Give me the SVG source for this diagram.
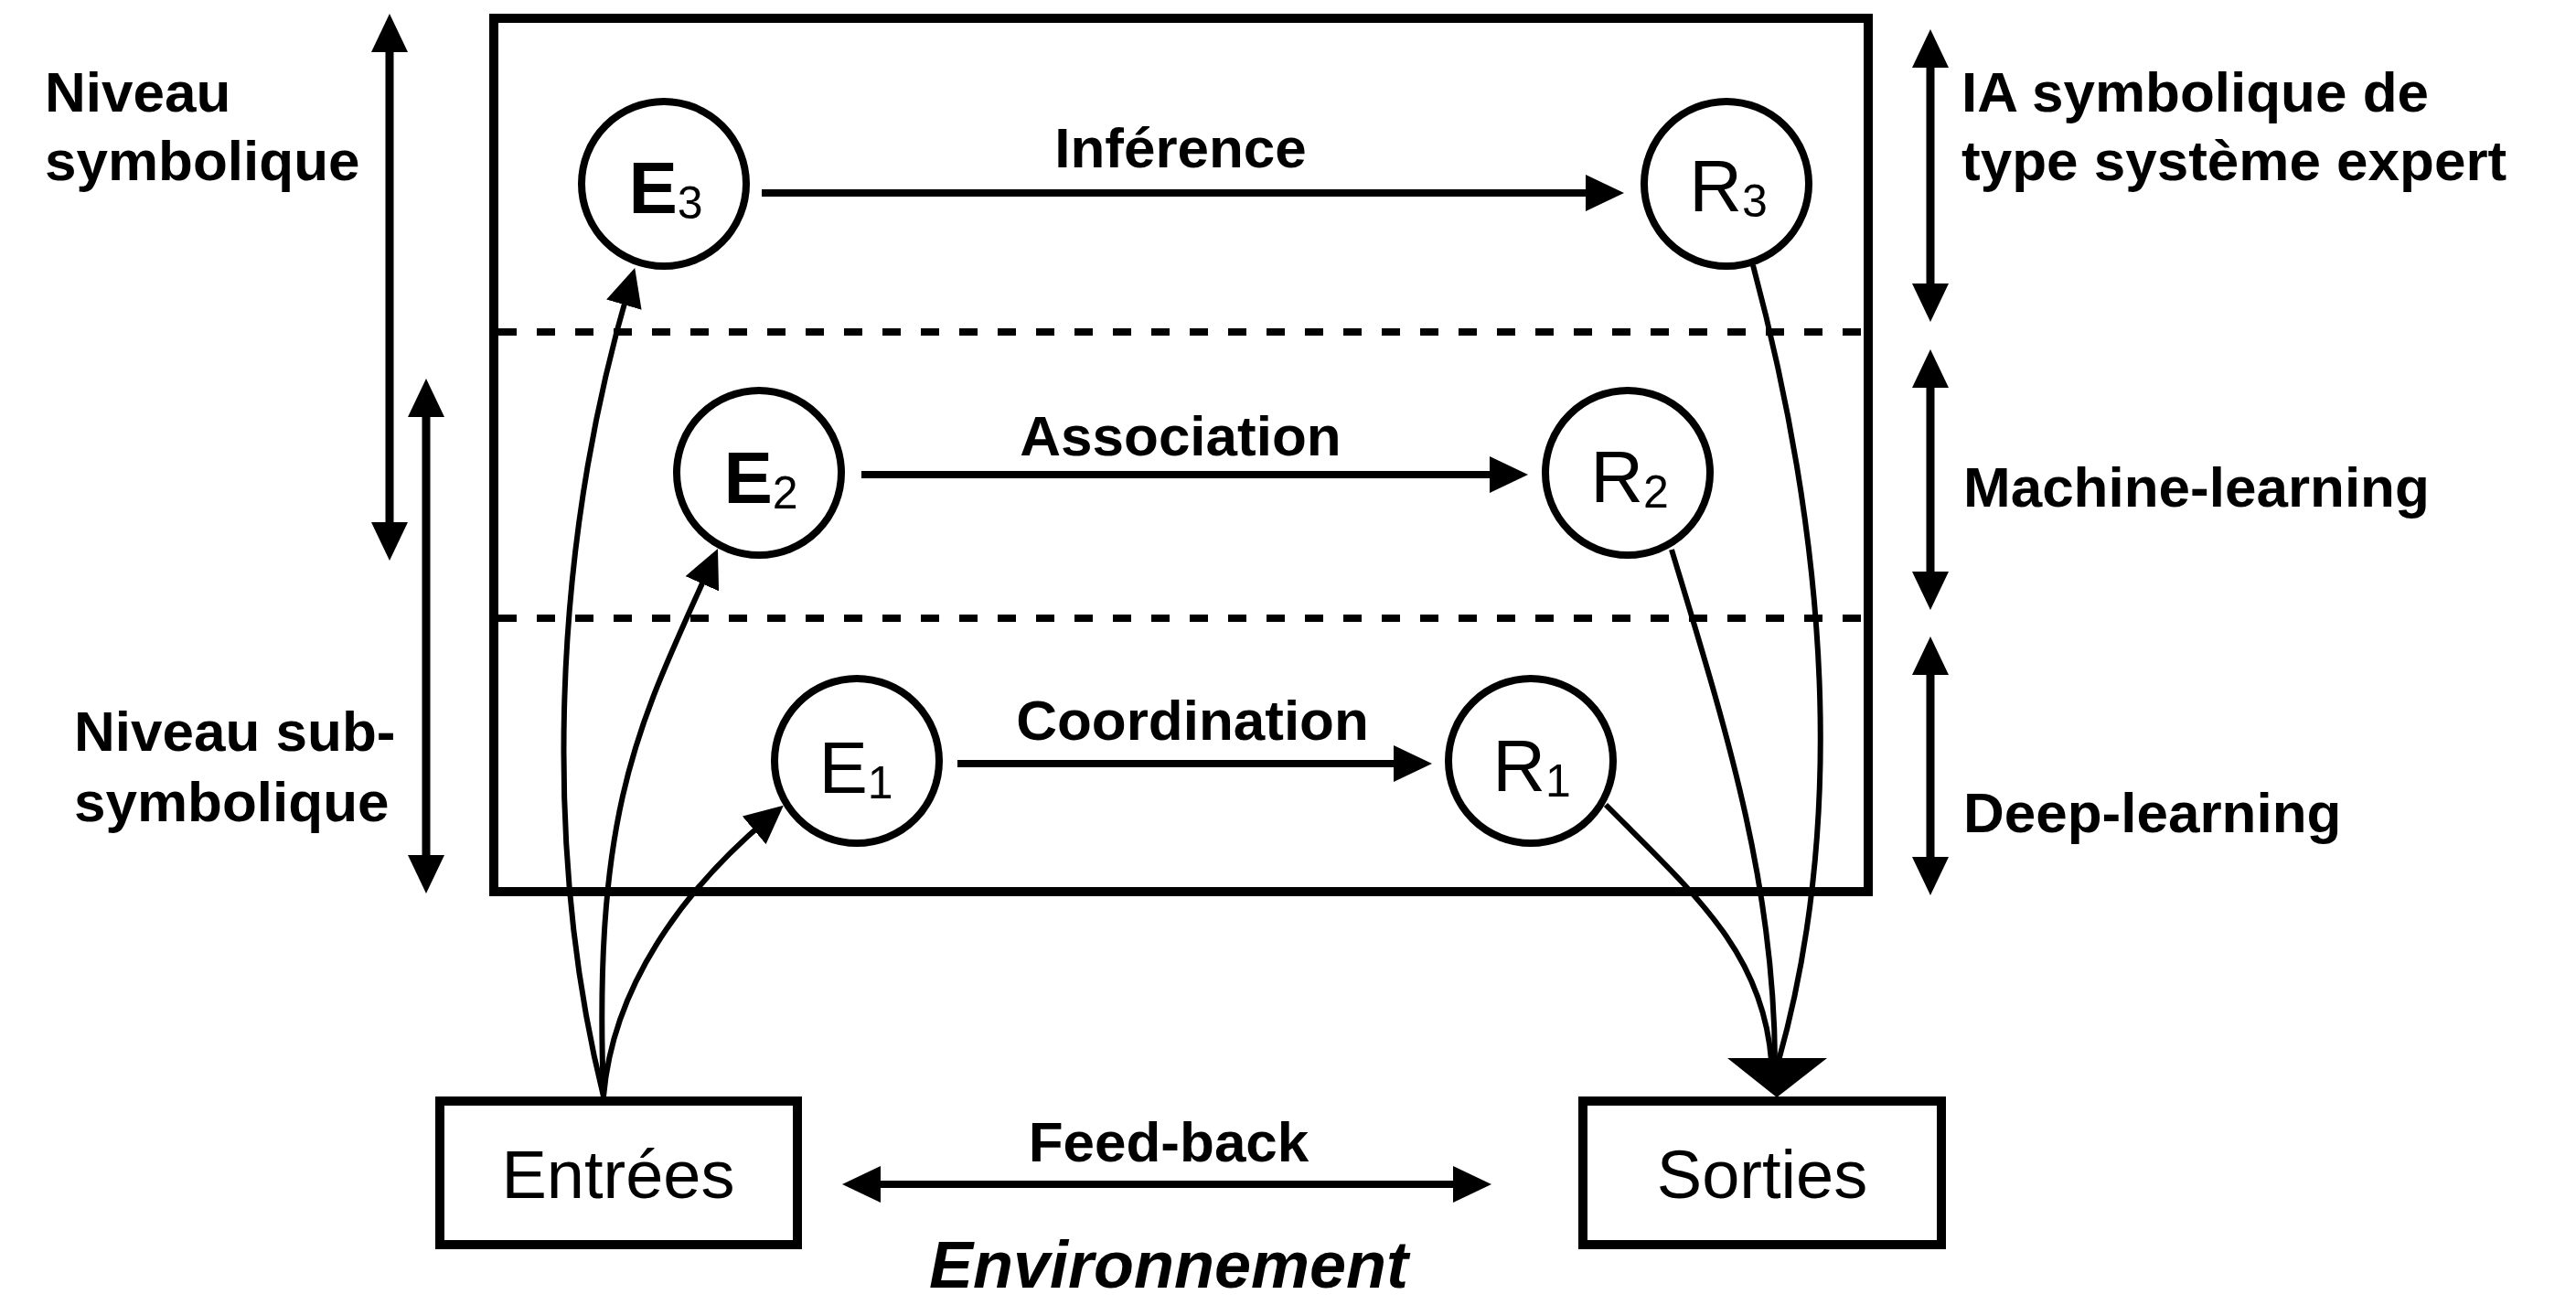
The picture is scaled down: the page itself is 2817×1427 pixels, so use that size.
<svg xmlns="http://www.w3.org/2000/svg" width="2817" height="1427" viewBox="0 0 2817 1427">
  <style>
    text { font-family: "Liberation Sans", Arial, Helvetica, sans-serif; fill: #000; }
    .lbl { font-size: 62px; font-weight: bold; }
    .mid { text-anchor: middle; }
    .box { fill: none; stroke: #000; stroke-width: 10; }
    .io { fill: #fff; stroke: #000; stroke-width: 10; }
    .sep { stroke: #000; stroke-width: 8; stroke-dasharray: 20 22; }
    .node { fill: #fff; stroke: #000; stroke-width: 8; }
    .nl { font-size: 80px; text-anchor: middle; }
    .nl tspan { font-size: 50px; font-weight: normal; }
    .bold { font-weight: bold; }
    .arr { fill: none; stroke: #000; stroke-width: 8; }
    .scale { fill: none; stroke: #000; stroke-width: 9; marker-start: url(#head); marker-end: url(#head); }
    .flow { fill: none; stroke: #000; stroke-width: 6; }
    .io-text { font-size: 74px; text-anchor: middle; }
  </style>
  <defs>
    <marker id="head" viewBox="0 0 42 40" refX="20" refY="20" markerWidth="42" markerHeight="40" markerUnits="userSpaceOnUse" orient="auto-start-reverse">
      <path d="M0,0 L42,20 L0,40 Z" fill="#000"/>
    </marker>
  </defs>

  <rect width="2817" height="1427" fill="#fff"/>

  <!-- system frame with the three level separators -->
  <g id="frame">
    <rect class="box" x="540" y="20" width="1503" height="955"/>
    <line class="sep" x1="545" y1="363" x2="2038" y2="363"/>
    <line class="sep" x1="545" y1="676" x2="2038" y2="676"/>
  </g>

  <!-- level scales, left and right -->
  <g id="scales">
    <line class="scale" x1="426" y1="37" x2="426" y2="591"/>
    <line class="scale" x1="466" y1="436" x2="466" y2="955"/>
    <line class="scale" x1="2111" y1="54" x2="2111" y2="330"/>
    <line class="scale" x1="2111" y1="404" x2="2111" y2="645"/>
    <line class="scale" x1="2111" y1="718" x2="2111" y2="957"/>
  </g>

  <g id="scale-labels">
    <text class="lbl" x="49" y="122">Niveau</text>
    <text class="lbl" x="49" y="197">symbolique</text>
    <text class="lbl" x="81" y="821">Niveau sub-</text>
    <text class="lbl" x="81" y="898">symbolique</text>
    <text class="lbl" x="2145" y="122">IA symbolique de</text>
    <text class="lbl" x="2145" y="197">type système expert</text>
    <text class="lbl" x="2147" y="554">Machine-learning</text>
    <text class="lbl" x="2147" y="910">Deep-learning</text>
  </g>

  <!-- connectors -->
  <g id="connectors">
    <line class="arr" x1="833" y1="211" x2="1754" y2="211" marker-end="url(#head)"/>
    <line class="arr" x1="942" y1="519" x2="1649" y2="519" marker-end="url(#head)"/>
    <line class="arr" x1="1047" y1="835" x2="1544" y2="835" marker-end="url(#head)"/>

    <path class="flow" d="M660,1199 C598,950 598,620 688,314" marker-end="url(#head)"/>
    <path class="flow" d="M660,1199 C648,880 700,790 776,620" marker-end="url(#head)"/>
    <path class="flow" d="M660,1199 C670,1080 745,975 840,895" marker-end="url(#head)"/>

    <path class="flow" d="M1917,290 C2000,600 2018,900 1945,1160"/>
    <path class="flow" d="M1828,601 C1885,790 1940,960 1941,1160"/>
    <path class="flow" d="M1756,880 C1850,975 1928,1040 1937,1160"/>
    <polygon points="1889,1157 1998,1157 1943,1200" fill="#000"/>

    <line class="arr" x1="943" y1="1295" x2="1609" y2="1295" stroke-width="10" marker-start="url(#head)" marker-end="url(#head)"/>
  </g>

  <g id="edge-labels">
    <text class="lbl mid" x="1291" y="183">Inférence</text>
    <text class="lbl mid" x="1291" y="498">Association</text>
    <text class="lbl mid" x="1304" y="809">Coordination</text>
    <text class="lbl mid" x="1278" y="1270">Feed-back</text>
  </g>

  <!-- nodes -->
  <g id="E3">
    <circle class="node" cx="726" cy="201" r="90"/>
    <text class="nl bold" x="728" y="233">E<tspan dy="6">3</tspan></text>
  </g>
  <g id="R3">
    <circle class="node" cx="1888" cy="201" r="90"/>
    <text class="nl" x="1890" y="231">R<tspan dy="6">3</tspan></text>
  </g>
  <g id="E2">
    <circle class="node" cx="830" cy="517" r="90"/>
    <text class="nl bold" x="832" y="550">E<tspan dy="6">2</tspan></text>
  </g>
  <g id="R2">
    <circle class="node" cx="1780" cy="517" r="90"/>
    <text class="nl" x="1782" y="549">R<tspan dy="6">2</tspan></text>
  </g>
  <g id="E1">
    <circle class="node" cx="937" cy="832" r="90"/>
    <text class="nl" x="936" y="867">E<tspan dy="6">1</tspan></text>
  </g>
  <g id="R1">
    <circle class="node" cx="1674" cy="832" r="90"/>
    <text class="nl" x="1675" y="865">R<tspan dy="6">1</tspan></text>
  </g>

  <g id="entrees">
    <rect class="io" x="481" y="1204" width="391" height="157"/>
    <text class="io-text" x="676" y="1310">Entrées</text>
  </g>
  <g id="sorties">
    <rect class="io" x="1731" y="1204" width="392" height="157"/>
    <text class="io-text" x="1927" y="1310">Sorties</text>
  </g>

  <text id="environnement" class="mid" x="1278" y="1408" font-size="72" font-weight="bold" font-style="italic">Environnement</text>
</svg>
